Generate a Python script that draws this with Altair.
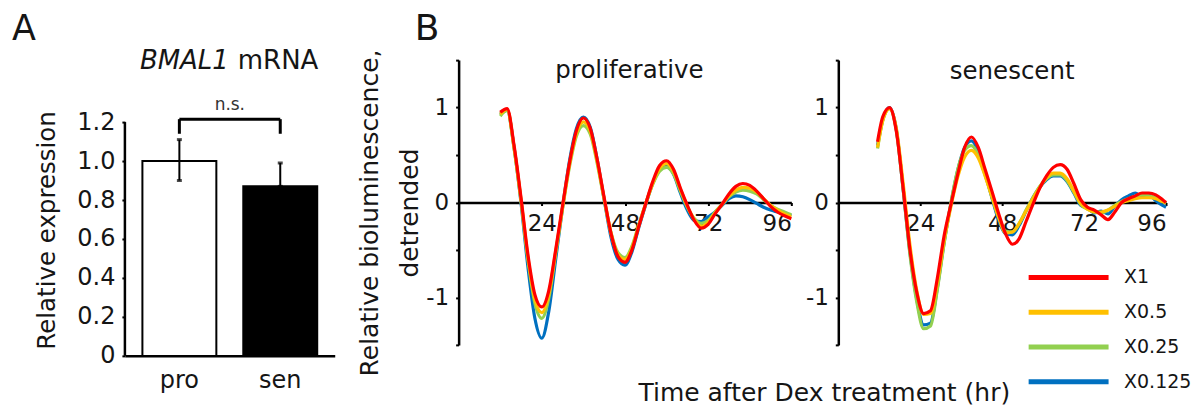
import altair as alt
import pandas as pd

FONT = "DejaVu Sans"
TXT = "#151515"

# ---------------- Panel A data ----------------
groups = ["pro", "sen"]
means = [1.0, 0.87]
err_lo = [0.9, 0.87]
err_hi = [1.11, 0.99]
fills = ["white", "black"]
bracket_y = 1.215
bracket_tip = 1.14
ns_y = 1.29

# ---------------- Panel B data ----------------
series_names = ["X1", "X0.5", "X0.25", "X0.125"]
series_colors = ["#FF0000", "#FFC000", "#92D050", "#0070C0"]

prolif_t = [12, 14, 16, 18, 20, 22, 24, 26, 28, 30, 32, 34, 36, 38, 40, 42, 44, 46, 48, 50,
            52, 54, 56, 58, 60, 62, 64, 66, 68, 70, 72, 74, 76, 78, 80, 82, 84, 86, 88, 90,
            92, 94, 96]
prolif_x1 = [0.95, 0.99, 0.60, 0.05, -0.55, -0.97, -1.10, -0.93, -0.50, -0.03, 0.42, 0.76, 0.89,
             0.78, 0.45, 0.05, -0.33, -0.57, -0.63, -0.50, -0.25, -0.01, 0.22, 0.39, 0.44, 0.35,
             0.15, -0.03, -0.19, -0.27, -0.23, -0.12, -0.02, 0.09, 0.17, 0.20, 0.18, 0.12, 0.04,
             -0.04, -0.10, -0.14, -0.17]
prolif_x05 = [0.93, 0.98, 0.58, 0.03, -0.58, -1.02, -1.16, -0.97, -0.52, -0.05, 0.40, 0.73, 0.85,
              0.75, 0.43, 0.04, -0.33, -0.55, -0.60, -0.48, -0.24, -0.01, 0.20, 0.36, 0.41, 0.33,
              0.14, -0.04, -0.18, -0.25, -0.21, -0.11, -0.02, 0.07, 0.13, 0.16, 0.15, 0.11, 0.04,
              -0.03, -0.08, -0.12, -0.15]
prolif_x025 = [0.91, 0.97, 0.57, 0.02, -0.60, -1.06, -1.22, -1.01, -0.54, -0.06, 0.38, 0.70, 0.81,
               0.72, 0.41, 0.03, -0.32, -0.53, -0.58, -0.46, -0.23, -0.01, 0.19, 0.33, 0.37, 0.30,
               0.12, -0.05, -0.17, -0.22, -0.19, -0.10, -0.02, 0.06, 0.11, 0.13, 0.12, 0.09, 0.03,
               -0.03, -0.07, -0.10, -0.13]
prolif_x0125 = [0.93, 0.97, 0.58, 0.00, -0.68, -1.22, -1.43, -1.15, -0.60, -0.05, 0.44, 0.78, 0.90,
                0.79, 0.45, 0.03, -0.37, -0.60, -0.66, -0.52, -0.26, -0.02, 0.20, 0.34, 0.38, 0.30,
                0.10, -0.08, -0.19, -0.20, -0.15, -0.10, -0.03, 0.04, 0.07, 0.06, 0.03, -0.01, -0.05,
                -0.08, -0.10, -0.12, -0.14]

senes_t = [11.5, 13, 15, 17, 19, 21, 23, 25, 27, 29, 31, 33, 35, 37, 39, 41, 43, 45, 47, 49, 51,
           53, 55, 57, 59, 61, 63, 65, 67, 69, 71, 73, 75, 77, 79, 81, 83, 85, 87, 89, 91, 93,
           95, 96]
senes_x1 = [0.64, 0.90, 1.00, 0.75, 0.15, -0.50, -0.95, -1.17, -1.14, -0.80, -0.35, -0.02, 0.30,
            0.58, 0.69, 0.58, 0.35, 0.12, -0.12, -0.33, -0.44, -0.38, -0.20, -0.02, 0.15, 0.28,
            0.37, 0.40, 0.35, 0.20, 0.03, -0.05, -0.08, -0.13, -0.18, -0.10, 0.00, 0.04, 0.07,
            0.10, 0.10, 0.08, 0.03, 0.00]
senes_x05 = [0.58, 0.86, 0.99, 0.78, 0.20, -0.45, -0.93, -1.18, -1.17, -0.85, -0.40, -0.04, 0.27,
             0.48, 0.55, 0.47, 0.28, 0.06, -0.16, -0.32, -0.31, -0.22, -0.09, 0.04, 0.16, 0.26,
             0.31, 0.31, 0.25, 0.12, -0.01, -0.07, -0.10, -0.10, -0.08, -0.04, 0.00, 0.02, 0.04,
             0.05, 0.05, 0.04, 0.01, 0.00]
senes_x025 = [0.57, 0.86, 0.99, 0.76, 0.14, -0.55, -1.05, -1.33, -1.30, -0.92, -0.43, 0.00, 0.35,
              0.55, 0.60, 0.50, 0.29, 0.06, -0.16, -0.30, -0.31, -0.22, -0.08, 0.05, 0.17, 0.25,
              0.29, 0.29, 0.23, 0.11, -0.02, -0.07, -0.10, -0.11, -0.08, -0.03, 0.01, 0.04, 0.06,
              0.08, 0.07, 0.05, 0.01, -0.01]
senes_x0125 = [0.60, 0.87, 1.00, 0.77, 0.14, -0.53, -1.02, -1.29, -1.27, -0.90, -0.42, -0.01, 0.34,
               0.58, 0.65, 0.54, 0.31, 0.05, -0.19, -0.33, -0.34, -0.24, -0.09, 0.05, 0.16, 0.24,
               0.28, 0.28, 0.22, 0.10, -0.03, -0.06, -0.11, -0.09, -0.12, -0.04, 0.03, 0.07, 0.10,
               0.06, 0.08, 0.02, -0.03, -0.05]

prolif_vals = {"X1": prolif_x1, "X0.5": prolif_x05, "X0.25": prolif_x025, "X0.125": prolif_x0125}
senes_vals = {"X1": senes_x1, "X0.5": senes_x05, "X0.25": senes_x025, "X0.125": senes_x0125}

# ---------------- Panel A ----------------
A_W, A_H = 210, 296
A_YMAX = 1.518

dfA = pd.DataFrame({"group": groups, "mean": means, "lo": err_lo, "hi": err_hi, "fill": fills})
df_axis = pd.DataFrame({"y0": [0.0], "y1": [1.2]})
df_bh = pd.DataFrame({"x1": [groups[0]], "x2": [groups[1]], "yb": [bracket_y]})
df_bv = pd.DataFrame({"group": groups, "yt": [bracket_tip, bracket_tip], "yb": [bracket_y, bracket_y]})
df_ns = pd.DataFrame({"label": ["n.s."], "y": [ns_y]})

x_axis_A = alt.Axis(title=None, labelAngle=0, labelFontSize=24, labelPadding=13,
                    domainColor="black", domainWidth=2.5, ticks=False, labelColor=TXT)
x_scale_A = alt.Scale(domain=groups, paddingInner=0, paddingOuter=0.04)
y_scale_A = alt.Scale(domain=[0, A_YMAX], nice=False)
y_axis_A = alt.Axis(title="Relative expression", values=[0, 0.2, 0.4, 0.6, 0.8, 1.0, 1.2],
                    labelExpr="datum.value == 0 ? '0' : format(datum.value, '.1f')",
                    domain=False, tickSize=3, tickColor="black", tickWidth=2,
                    labelFontSize=24, labelPadding=7, labelColor=TXT,
                    titleFontSize=24.5, titleFontWeight="normal", titleColor=TXT,
                    titleX=-77, titleY=170, titleAngle=270, titleAlign="center",
                    titleBaseline="middle")

def xA(field):
    return alt.X(field + ":N", scale=x_scale_A, axis=x_axis_A)

def yA(field):
    return alt.Y(field + ":Q", scale=y_scale_A, axis=y_axis_A)

axis_line = alt.Chart(df_axis).mark_rule(color="black", strokeWidth=2.5).encode(
    x=alt.value(0), y=yA("y0"), y2="y1")
bars = alt.Chart(dfA).mark_bar(size=74, stroke="black", strokeWidth=2).encode(
    x=xA("group"), y=yA("mean"), fill=alt.Fill("fill:N", scale=None))
err = alt.Chart(dfA).mark_rule(color="black", strokeWidth=2).encode(
    x=xA("group"), y=yA("lo"), y2="hi")
cap_hi = alt.Chart(dfA).mark_tick(color="black", size=5, thickness=3).encode(
    x=xA("group"), y=yA("hi"))
cap_lo = alt.Chart(dfA).mark_tick(color="black", size=5, thickness=3).encode(
    x=xA("group"), y=yA("lo"))
br_h = alt.Chart(df_bh).mark_rule(color="black", strokeWidth=3).encode(
    x=xA("x1"), x2="x2", y=yA("yb"))
br_v = alt.Chart(df_bv).mark_rule(color="black", strokeWidth=3).encode(
    x=xA("group"), y=yA("yt"), y2="yb")
ns = alt.Chart(df_ns).mark_text(font=FONT, fontSize=17, color="#333", baseline="middle").encode(
    x=alt.value(A_W / 2), y=yA("y"), text="label:N")
tA1 = alt.Chart(pd.DataFrame({"t": ["BMAL1"]})).mark_text(
    font=FONT, fontSize=26, fontStyle="italic", align="left", baseline="alphabetic", color=TXT).encode(
    x=alt.value(15), y=alt.value(9), text="t:N")
tA2 = alt.Chart(pd.DataFrame({"t": ["mRNA"]})).mark_text(
    font=FONT, fontSize=26, align="left", baseline="alphabetic", color=TXT).encode(
    x=alt.value(113), y=alt.value(9), text="t:N")
labA = alt.Chart(pd.DataFrame({"t": ["A"]})).mark_text(
    font=FONT, fontSize=35, align="left", baseline="alphabetic", color=TXT).encode(
    x=alt.value(-113), y=alt.value(-20), text="t:N")

panelA = alt.layer(axis_line, bars, err, cap_hi, cap_lo, br_h, br_v, ns, tA1, tA2, labA).properties(
    width=A_W, height=A_H)

# ---------------- Panel B ----------------
B_H = 285


def text_layer(text, x, y, size, angle=0, align="center", baseline="alphabetic"):
    return alt.Chart(pd.DataFrame({"t": [text]})).mark_text(
        font=FONT, fontSize=size, align=align, baseline=baseline, color=TXT, angle=angle).encode(
        x=alt.value(x), y=alt.value(y), text="t:N")


def make_panel(times, vals, width, legend, extras):
    rows = []
    for s in series_names:
        for t, v in zip(times, vals[s]):
            rows.append({"t": t, "v": v, "series": s})
    df = pd.DataFrame(rows)
    x_enc = alt.X("t:Q", scale=alt.Scale(domain=[0, 96], nice=False),
                  axis=alt.Axis(values=[24, 48, 72, 96], offset=-B_H / 2, title=None,
                                domainColor="black", domainWidth=2.5, tickSize=3,
                                tickColor="black", tickWidth=2, labelFontSize=23,
                                labelPadding=7, labelColor=TXT, grid=False))
    y_axis = alt.Axis(title=None, values=[-1.5, -1, -0.5, 0, 0.5, 1, 1.5],
                      labelExpr="datum.value % 1 == 0 ? toString(datum.value) : ''",
                      domainColor="black", domainWidth=2.5, tickSize=3, tickColor="black",
                      tickWidth=2, labelFontSize=23, labelPadding=7, labelColor=TXT,
                      grid=False)
    y_enc = alt.Y("v:Q", scale=alt.Scale(domain=[-1.5, 1.5], nice=False), axis=y_axis)
    color = alt.Color("series:N", scale=alt.Scale(domain=series_names, range=series_colors),
                      legend=legend)
    layers = []
    for s in reversed(series_names):
        layers.append(
            alt.Chart(df).transform_filter(alt.datum.series == s)
            .mark_line(strokeWidth=3.2, interpolate="monotone")
            .encode(x=x_enc, y=y_enc, color=color)
        )
    layers.extend(extras)
    return alt.layer(*layers).properties(width=width, height=B_H)


legend_B = alt.Legend(title=None, orient="none", legendX=218, legendY=205,
                      symbolType="M-4,0H4", symbolSize=400, symbolStrokeWidth=5,
                      labelFontSize=19, labelFont=FONT, labelColor=TXT, rowPadding=11.8,
                      labelOffset=43, padding=0)

prolif_extras = [
    text_layer("proliferative", 171, 18, 24.5),
    text_layer("B", -44, -20, 36, align="left"),
    text_layer("Relative bioluminescence,", -89, 153, 25, angle=270, baseline="middle"),
    text_layer("detrended", -49, 153, 25, angle=270, baseline="middle"),
    text_layer("Time after Dex treatment (hr)", 366, 341, 25),
]
senes_extras = [text_layer("senescent", 174, 19, 24.5)]

prolif = make_panel(prolif_t, prolif_vals, 333, None, prolif_extras)
senes = make_panel(senes_t, senes_vals, 328, legend_B, senes_extras)

panelB = alt.hconcat(prolif, senes, spacing=47, bounds="flush").resolve_scale(color="independent")

chart = alt.hconcat(panelA, panelB, spacing=124, bounds="flush").properties(
    padding={"left": 4, "top": 3, "right": 0, "bottom": 0}
).configure_view(stroke=None).configure_axis(
    labelFont=FONT, titleFont=FONT, grid=False).configure_text(font=FONT)

chart.save("out.html", embed_options={"renderer": "svg", "actions": False})
